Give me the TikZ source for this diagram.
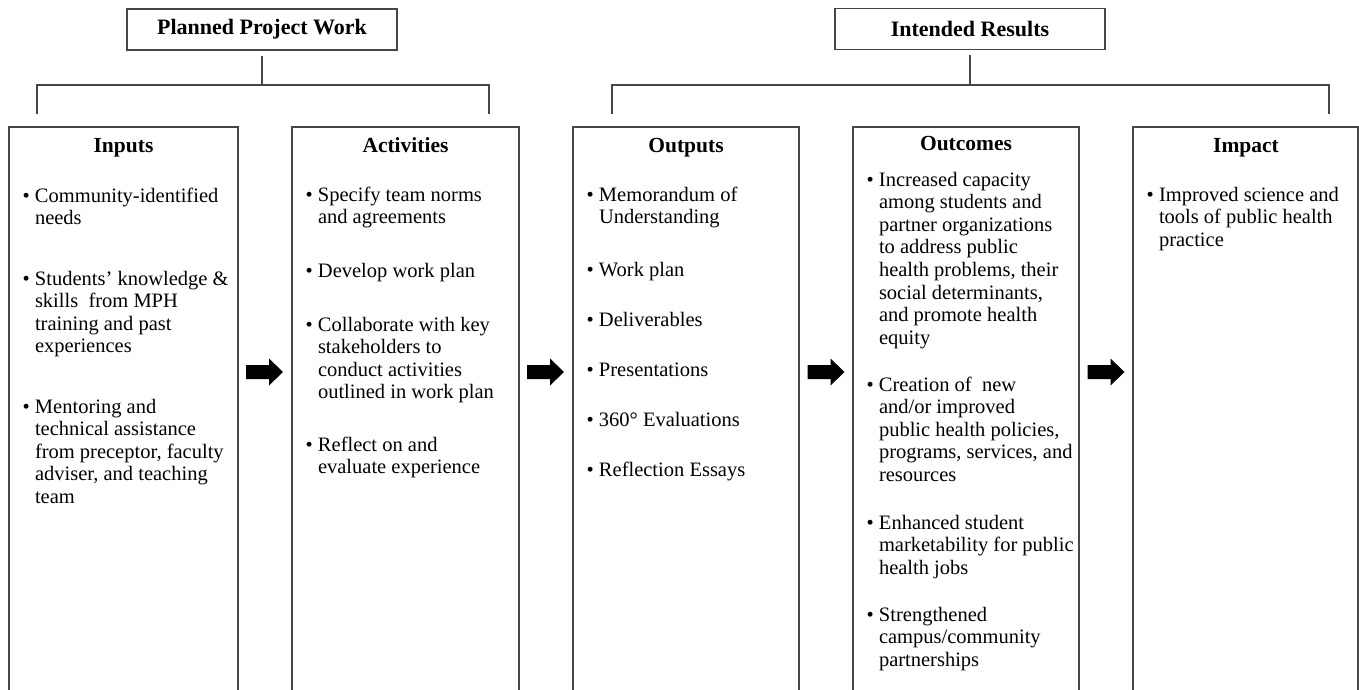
\documentclass[tikz,border=0pt]{standalone}
\usepackage{fontspec}
\usepackage{graphicx}
\setmainfont{Liberation Serif}
\usetikzlibrary{calc}
\definecolor{lc}{RGB}{70,70,70}
\tikzset{
  ln/.style={draw=lc, line width=1.2pt},
  colbox/.style={draw=lc, line width=1.2pt, anchor=north west, minimum height=620pt, inner sep=0pt, outer sep=0pt},
  headbox/.style={draw=lc, line width=1.2pt, minimum height=41pt, inner sep=0pt, outer sep=0pt, font=\fontsize{22}{24}\selectfont\bfseries},
  ttl/.style={anchor=base, inner sep=0pt, font=\fontsize{21.5}{24}\selectfont\bfseries},
  itm/.style={anchor=base west, inner sep=0pt, outer sep=0pt},
}
\newcommand\bitem[1]{\parbox[t]{230pt}{\fontsize{20.5}{22.6}\selectfont\parindent=0pt\rightskip=0pt plus 1fil\hangindent=14pt\hangafter=1\noindent\makebox[14pt][l]{\hspace{1.5pt}\textbullet}#1}}
\newcommand\blockarrow[2]{%
  \coordinate (#2) at (#1,372);
  \fill[black] ($(#2)+(-18.5,-7)$) -- ++(23,0) -- ++(0,-6.5) -- ++(14,13.5) -- ++(-14,13.5) -- ++(0,-6.5) -- ++(-23,0) -- cycle;}
\begin{document}
\begin{tikzpicture}[x=1pt,y=-1pt]
\useasboundingbox (0,0) rectangle (1359,690);
\fill[white] (0,0) rectangle (1359,690);
\clip (0,0) rectangle (1359,690);

% header boxes
\node[headbox, minimum width=270pt] (ppw) at (262,29.5) {Planned Project Work};
\node[headbox, minimum width=270pt] (irs) at (970,29) {Intended Results};

% brackets
\coordinate (pj) at (263,85);
\coordinate (pL) at (37,85);  \coordinate (pLd) at (37,114);
\coordinate (pR) at (489,85); \coordinate (pRd) at (489,114);
\draw[ln] ([yshift=-6pt]ppw.south) -- (ppw.south |- pj);
\draw[ln] (pLd) -- (pL) -- (pR) -- (pRd);

\coordinate (ij) at (970,85);
\coordinate (iL) at (612,85);  \coordinate (iLd) at (612,114);
\coordinate (iR) at (1329,85); \coordinate (iRd) at (1329,114);
\draw[ln] ([yshift=-6pt]irs.south) -- (irs.south |- ij);
\draw[ln] (iLd) -- (iL) -- (iR) -- (iRd);

% column boxes
\node[colbox, minimum width=229pt] (inp) at (9,127) {};
\node[colbox, minimum width=227pt] (act) at (292,127) {};
\node[colbox, minimum width=226pt] (out) at (573,127) {};
\node[colbox, minimum width=226pt] (otc) at (853,127) {};
\node[colbox, minimum width=225pt] (imp) at (1133,127) {};

% titles
\node[ttl] (tinp) at (123.5,152) {Inputs};
\node[ttl] (tact) at (405.5,152) {Activities};
\node[ttl] (tout) at (686,152) {Outputs};
\node[ttl] (totc) at (966,150) {Outcomes};
\node[ttl] (timp) at (1246,152) {Impact};

% Inputs
\node[itm] (i1) at (21,202) {\bitem{Community-identified\\needs}};
\node[itm] (i2) at (21,285) {\bitem{Students' knowledge \&\\skills\ \ from MPH\\training and past\\experiences}};
\node[itm] (i3) at (21,413) {\bitem{Mentoring and\\technical assistance\\from preceptor, faculty\\adviser, and teaching\\team}};

% Activities
\node[itm] (a1) at (304,201) {\bitem{Specify team norms\\and agreements}};
\node[itm] (a2) at (304,277) {\bitem{Develop work plan}};
\node[itm] (a3) at (304,331) {\bitem{Collaborate with key\\stakeholders to\\conduct activities\\outlined in work plan}};
\node[itm] (a4) at (304,451) {\bitem{Reflect on and\\evaluate experience}};

% Outputs
\node[itm] (o1) at (585,201) {\bitem{Memorandum of\\Understanding}};
\node[itm] (o2) at (585,276) {\bitem{Work plan}};
\node[itm] (o3) at (585,326) {\bitem{Deliverables}};
\node[itm] (o4) at (585,376) {\bitem{Presentations}};
\node[itm] (o5) at (585,426) {\bitem{360° Evaluations}};
\node[itm] (o6) at (585,476) {\bitem{Reflection Essays}};

% Outcomes
\node[itm] (c1) at (865,186) {\bitem{Increased capacity\\among students and\\partner organizations\\to address public\\health problems, their\\social determinants,\\and promote health\\equity}};
\node[itm] (c2) at (865,391) {\bitem{Creation of\ \ new\\and/or improved\\public health policies,\\programs, services, and\\resources}};
\node[itm] (c3) at (865,529) {\bitem{Enhanced student\\marketability for public\\health jobs}};
\node[itm] (c4) at (865,621) {\bitem{Strengthened\\campus/community\\partnerships}};

% Impact
\node[itm] (m1) at (1145,201) {\bitem{Improved science and\\tools of public health\\practice}};

% block arrows
\blockarrow{264.5}{ar1}
\blockarrow{545.5}{ar2}
\blockarrow{826}{ar3}
\blockarrow{1106}{ar4}
\end{tikzpicture}
\end{document}
